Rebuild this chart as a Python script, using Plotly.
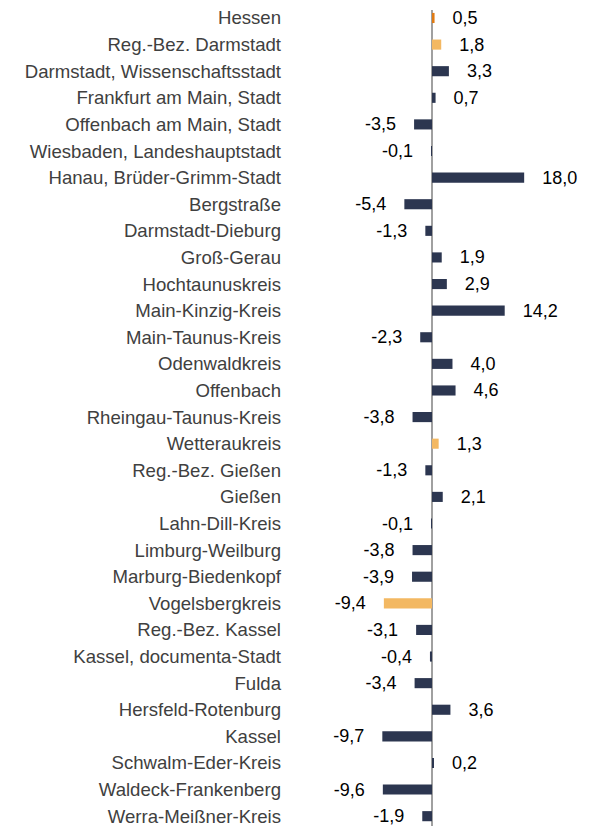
import plotly.graph_objects as go

regions = [
    "Hessen",
    "Reg.-Bez. Darmstadt",
    "Darmstadt, Wissenschaftsstadt",
    "Frankfurt am Main, Stadt",
    "Offenbach am Main, Stadt",
    "Wiesbaden, Landeshauptstadt",
    "Hanau, Brüder-Grimm-Stadt",
    "Bergstraße",
    "Darmstadt-Dieburg",
    "Groß-Gerau",
    "Hochtaunuskreis",
    "Main-Kinzig-Kreis",
    "Main-Taunus-Kreis",
    "Odenwaldkreis",
    "Offenbach",
    "Rheingau-Taunus-Kreis",
    "Wetteraukreis",
    "Reg.-Bez. Gießen",
    "Gießen",
    "Lahn-Dill-Kreis",
    "Limburg-Weilburg",
    "Marburg-Biedenkopf",
    "Vogelsbergkreis",
    "Reg.-Bez. Kassel",
    "Kassel, documenta-Stadt",
    "Fulda",
    "Hersfeld-Rotenburg",
    "Kassel",
    "Schwalm-Eder-Kreis",
    "Waldeck-Frankenberg",
    "Werra-Meißner-Kreis",
]
change = [
    0.5, 1.8, 3.3, 0.7, -3.5, -0.1, 18.0, -5.4, -1.3, 1.9, 2.9, 14.2, -2.3,
    4.0, 4.6, -3.8, 1.3, -1.3, 2.1, -0.1, -3.8, -3.9, -9.4, -3.1, -0.4,
    -3.4, 3.6, -9.7, 0.2, -9.6, -1.9,
]

NAVY = "#2C3650"
LIGHT = "#F3B862"
ORANGE = "#E07A12"
highlight = {"Hessen": ORANGE, "Reg.-Bez. Darmstadt": LIGHT,
             "Wetteraukreis": LIGHT, "Vogelsbergkreis": LIGHT}
colors = [highlight.get(r, NAVY) for r in regions]
labels = [
    ("   " + f"{v:.1f}".replace(".", ",")) if v >= 0
    else (f"{v:.1f}".replace(".", ",") + "   ")
    for v in change
]

fig = go.Figure(
    go.Bar(
        y=regions,
        x=change,
        orientation="h",
        marker_color=colors,
        marker_line_width=0,
        text=labels,
        textposition="outside",
        constraintext="none",
        cliponaxis=False,
        textfont=dict(size=18, color="#000000"),
        hoverinfo="skip",
    )
)
fig.update_xaxes(
    range=[-27.73, 30.66],
    showgrid=False,
    showticklabels=False,
    zeroline=True,
    zerolinecolor="#A0A0A0",
    zerolinewidth=1.5,
    fixedrange=True,
)
fig.update_yaxes(
    categoryorder="array",
    categoryarray=regions,
    range=[30.67, -0.3],
    showgrid=False,
    ticks="",
    ticklabelstandoff=8,
    tickfont=dict(size=18.6, color="#404040"),
    fixedrange=True,
)
fig.update_layout(
    width=591,
    height=826,
    font_family="Liberation Sans, Arial, sans-serif",
    paper_bgcolor="white",
    plot_bgcolor="white",
    bargap=0.62,
    showlegend=False,
    margin={"l": 282, "t": 0, "r": 10, "b": 0},
)
fig.write_html("out.html")
